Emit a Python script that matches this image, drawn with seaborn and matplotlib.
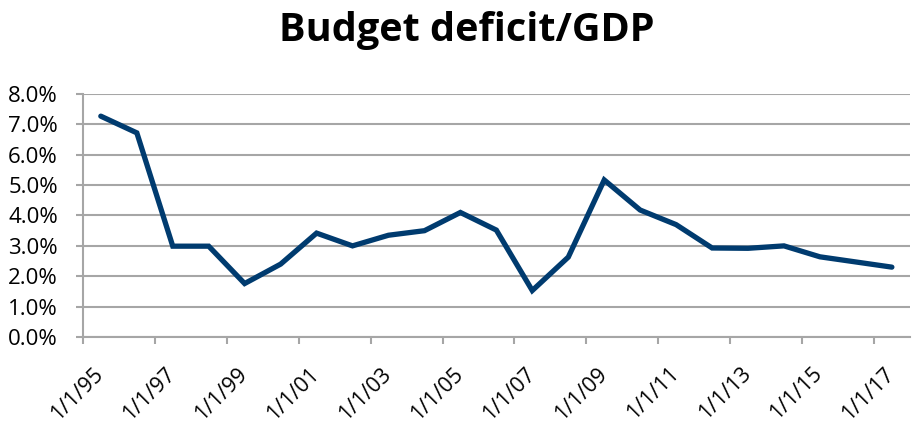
import matplotlib
matplotlib.use("Agg")
import matplotlib.pyplot as plt
import matplotlib.transforms as mtransforms
from matplotlib.ticker import PercentFormatter, MultipleLocator
import seaborn as sns
import pandas as pd

years = list(range(1995, 2018))
deficit_pct = [7.27, 6.72, 2.99, 2.99, 1.76, 2.4, 3.42, 3.0, 3.35, 3.5, 4.1,
               3.52, 1.53, 2.63, 5.17, 4.18, 3.7, 2.93, 2.92, 3.0, 2.64, 2.47, 2.3]
tick_years = list(range(1995, 2018, 2))

df = pd.DataFrame({
    "date": pd.to_datetime([f"{y}-07-01" for y in years]),
    "deficit": deficit_pct,
})

sns.set_theme(style="white")
plt.rcParams["font.family"] = ["Open Sans", "DejaVu Sans"]

fig = plt.figure(figsize=(9.14, 4.28), dpi=100)
ax = fig.add_axes([0.0908, 0.2126, 0.9048, 0.5678])

navy = "#003B6F"
grid_c = "#A6A6A6"

sns.lineplot(data=df, x="date", y="deficit", ax=ax, color=navy, linewidth=3.8,
             solid_joinstyle="miter")

ax.set_ylim(0, 8)
ax.yaxis.set_major_locator(MultipleLocator(1))
ax.yaxis.set_major_formatter(PercentFormatter(decimals=1))
ax.set_xlim(pd.Timestamp("1995-01-01"), pd.Timestamp("2018-01-01"))
ticks = [pd.Timestamp(f"{y}-01-01") for y in tick_years]
ax.set_xticks(ticks)
ax.set_xticklabels([f"1/1/{y % 100:02d}" for y in tick_years])

ax.grid(axis="y", color=grid_c, linewidth=1.5)
ax.grid(axis="x", visible=False)
ax.set_axisbelow(True)
for s in ["top", "right"]:
    ax.spines[s].set_visible(False)
for s in ["left", "bottom"]:
    ax.spines[s].set_color(grid_c)
    ax.spines[s].set_linewidth(1.5)

ax.tick_params(axis="y", direction="out", length=5, width=1.5, color=grid_c,
               labelsize=16, pad=13, left=True, labelcolor="black")
ax.tick_params(axis="x", direction="out", length=5, width=1.5, color=grid_c,
               labelsize=15.5, pad=14, bottom=True, labelcolor="black")
ax.set_xlabel("")
ax.set_ylabel("")

offset = mtransforms.ScaledTranslation(-4 / 72, 0, fig.dpi_scale_trans)
for lbl in ax.get_xticklabels():
    lbl.set_rotation(45)
    lbl.set_ha("center")
    lbl.set_va("top")
    lbl.set_rotation_mode("default")
    lbl.set_transform(lbl.get_transform() + offset)

fig.text(0.511, 0.928, "Budget deficit/GDP", ha="center", va="center",
         fontsize=28.5, fontweight="bold", color="black")

fig.savefig("out.png", dpi=100, facecolor="white")
